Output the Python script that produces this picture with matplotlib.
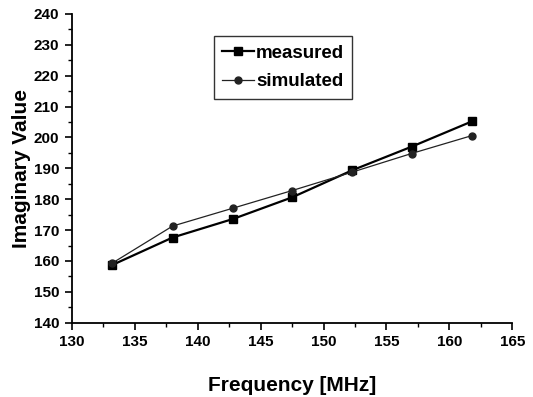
import matplotlib.pyplot as plt
from matplotlib.ticker import MultipleLocator

# Daten
freq = [133.2, 138.0, 142.8, 147.5, 152.3, 157.0, 161.8]
measured = [158.7, 167.6, 173.6, 180.6, 189.4, 197.0, 205.2]
simulated = [159.3, 171.3, 177.1, 182.8, 188.8, 194.8, 200.6]

font = ["Liberation Sans", "DejaVu Sans"]

fig = plt.figure(figsize=(5.33, 3.97), dpi=100)
ax = fig.add_axes([0.135, 0.187, 0.826, 0.778])

ax.plot(freq, measured, color="black", lw=1.6, marker="s", ms=5.5,
        label="measured")
ax.plot(freq, simulated, color="#222222", lw=0.9, marker="o", ms=5,
        label="simulated")

ax.set_xlim(130, 165)
ax.set_ylim(140, 240)
ax.xaxis.set_major_locator(MultipleLocator(5))
ax.xaxis.set_minor_locator(MultipleLocator(2.5))
ax.yaxis.set_major_locator(MultipleLocator(10))
ax.yaxis.set_minor_locator(MultipleLocator(5))

ax.spines["top"].set_visible(False)
ax.spines["right"].set_visible(False)
ax.spines["left"].set_linewidth(1.3)
ax.spines["bottom"].set_linewidth(1.3)
ax.tick_params(which="major", direction="out", length=5, width=1.2, pad=4)
ax.tick_params(which="minor", direction="out", length=3, width=1.0)

for lab in ax.get_xticklabels() + ax.get_yticklabels():
    lab.set_family(font)
    lab.set_fontweight("bold")
    lab.set_fontsize(11)

ax.set_xlabel("Frequency [MHz]", family=font, fontweight="bold",
              fontsize=15, labelpad=19)
ax.set_ylabel("Imaginary Value", family=font, fontweight="bold",
              fontsize=15, labelpad=2)

leg = ax.legend(loc="upper left", bbox_to_anchor=(0.322, 0.927),
                prop={"family": font, "weight": "bold", "size": 13.5},
                frameon=True, fancybox=False, edgecolor="black",
                handlelength=1.7, borderpad=0.45, labelspacing=0.6,
                handletextpad=0.1, borderaxespad=0)
leg.get_frame().set_linewidth(1.0)

plt.savefig("out.png", dpi=100)
